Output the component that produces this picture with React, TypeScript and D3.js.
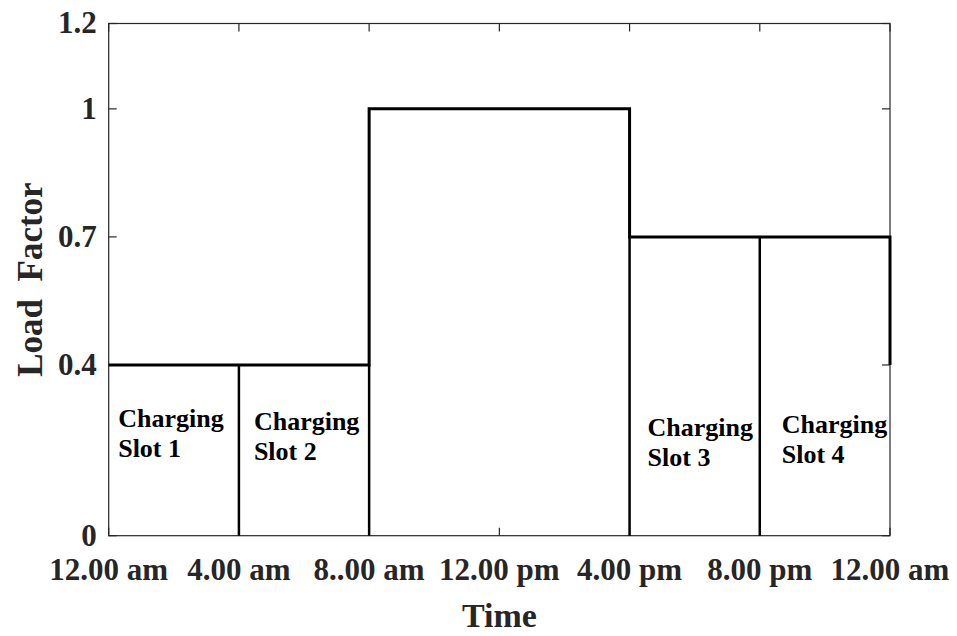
import React from 'react';
import * as d3 from 'd3';

const hourTicks = [0, 4, 8, 12, 16, 20, 24];
const hourLabels = ['12.00 am', '4.00 am', '8..00 am', '12.00 pm', '4.00 pm', '8.00 pm', '12.00 am'];
const loadTicks = [0, 0.4, 0.7, 1, 1.2];
const loadTickLabels = ['0', '0.4', '0.7', '1', '1.2'];

const stepHours = [0, 8, 8, 16, 16, 24, 24];
const stepLoads = [0.4, 0.4, 1, 1, 0.7, 0.7, 0.4];

const dividerHours = [4, 8, 16, 20];
const dividerTops = [0.4, 0.4, 0.7, 0.7];

const slotStartHours = [0, 4, 16, 20];
const slotNames = ['Slot 1', 'Slot 2', 'Slot 3', 'Slot 4'];

const W = 957;
const H = 636;
const M = { left: 108.7, right: 890, top: 23.5, bottom: 535.7 };

export default function App() {
  const x = d3.scaleLinear().domain([0, 24]).range([M.left, M.right]);
  const y = d3.scaleLinear().domain([0, 1.2]).range([M.bottom, M.top]);
  const line = d3
    .line<number>()
    .x((_, i) => x(stepHours[i]))
    .y((d) => y(d));

  const font = '"Liberation Serif", "Times New Roman", serif';
  const axisColor = '#262626';
  const tickLen = 8;
  const slotDx = [9.5, 15, 18, 22];
  const slotBase = [427, 430, 436, 433];

  return (
    <svg
      width={W}
      height={H}
      style={{ position: 'absolute', left: 0, top: 0, background: '#fff' }}
      fontFamily={font}
    >
      <rect x={0} y={0} width={W} height={H} fill="#fff" />
      {/* frame */}
      <rect
        x={M.left}
        y={M.top}
        width={M.right - M.left}
        height={M.bottom - M.top}
        fill="none"
        stroke={axisColor}
        strokeWidth={1.2}
      />
      {/* y ticks */}
      {loadTicks.map((t, i) => (
        <g key={'y' + i}>
          <line x1={M.left} x2={M.left + tickLen} y1={y(t)} y2={y(t)} stroke={axisColor} strokeWidth={1.2} />
          <line x1={M.right} x2={M.right - tickLen} y1={y(t)} y2={y(t)} stroke={axisColor} strokeWidth={1.2} />
          <text
            x={M.left - 12}
            y={y(t)}
            dy="0.32em"
            textAnchor="end"
            fontSize={31}
            fontWeight="bold"
            fill={axisColor}
          >
            {loadTickLabels[i]}
          </text>
        </g>
      ))}
      {/* x ticks */}
      {hourTicks.map((h, i) => (
        <g key={'x' + i}>
          <line x1={x(h)} x2={x(h)} y1={M.bottom} y2={M.bottom - tickLen} stroke={axisColor} strokeWidth={1.2} />
          <line x1={x(h)} x2={x(h)} y1={M.top} y2={M.top + tickLen} stroke={axisColor} strokeWidth={1.2} />
          <text
            x={x(h)}
            y={580}
            textAnchor="middle"
            fontSize={31}
            fontWeight="bold"
            fill={axisColor}
          >
            {hourLabels[i]}
          </text>
        </g>
      ))}
      {/* dividers */}
      {dividerHours.map((h, i) => (
        <line
          key={'d' + i}
          x1={x(h)}
          x2={x(h)}
          y1={y(0)}
          y2={y(dividerTops[i])}
          stroke="#000"
          strokeWidth={2.5}
        />
      ))}
      {/* step line */}
      <path d={line(stepLoads) || ''} fill="none" stroke="#000" strokeWidth={3} strokeLinejoin="miter" />
      {/* slot labels */}
      {slotStartHours.map((h, i) => (
        <text key={'s' + i} x={x(h) + slotDx[i]} y={slotBase[i]} fontSize={26} fontWeight="bold" fill="#000">
          <tspan x={x(h) + slotDx[i]}>Charging</tspan>
          <tspan x={x(h) + slotDx[i]} dy={30}>
            {slotNames[i]}
          </tspan>
        </text>
      ))}
      {/* axis titles */}
      <text x={(M.left + M.right) / 2} y={627} textAnchor="middle" fontSize={34} fontWeight="bold" fill={axisColor}>
        Time
      </text>
      <text
        transform={`translate(42, ${(M.top + M.bottom) / 2}) rotate(-90)`}
        textAnchor="middle"
        fontSize={35}
        fontWeight="bold"
        fill={axisColor}
        style={{ whiteSpace: 'pre' }}
      >
        {'Load  Factor'}
      </text>
    </svg>
  );
}
